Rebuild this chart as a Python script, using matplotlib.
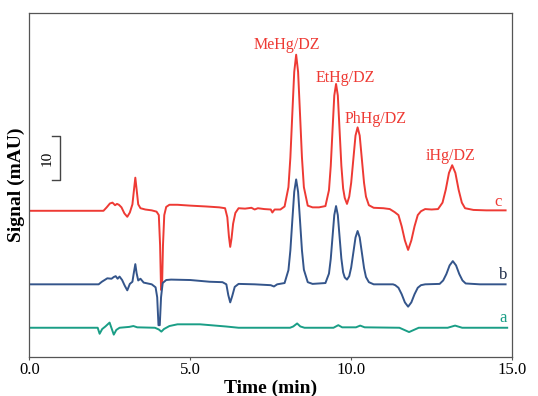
import numpy as np
import matplotlib
matplotlib.use("Agg")
import matplotlib.pyplot as plt  # noqa: E402

plt.rcParams["font.family"] = ["Liberation Serif", "DejaVu Serif"]

RED, BLUE, TEAL = "#EE3A34", "#34558B", "#1A9E86"

# traza c (mAU, relativo a su línea base)
t_c = [0.0, 2.30, 2.40, 2.50, 2.58, 2.66, 2.72, 2.78, 2.86, 2.95, 3.04, 3.12, 3.20, 3.25, 3.29,
       3.33, 3.38, 3.45, 3.60, 3.80, 3.95, 4.02, 4.06, 4.09, 4.12, 4.15, 4.19, 4.25, 4.35, 4.60,
       5.00, 5.50, 5.90, 6.08, 6.15, 6.20, 6.24, 6.28, 6.33, 6.40, 6.50, 6.70, 6.90, 7.00, 7.10,
       7.30, 7.50, 7.55, 7.62, 7.80, 7.93, 8.05, 8.11, 8.17, 8.23, 8.29, 8.35, 8.41, 8.47, 8.53,
       8.65, 8.80, 9.00, 9.20, 9.31, 9.365, 9.42, 9.475, 9.53, 9.585, 9.64, 9.695, 9.75, 9.80,
       9.87, 9.94, 10.00, 10.07, 10.135, 10.20, 10.265, 10.33, 10.40, 10.46, 10.55, 10.70, 11.00,
       11.20, 11.35, 11.47, 11.57, 11.67, 11.77, 11.87, 11.97, 12.07, 12.17, 12.30, 12.50, 12.70,
       12.84, 12.94, 13.04, 13.14, 13.24, 13.34, 13.44, 13.54, 13.80, 14.20, 14.80]
s_c = [0.0, 0.0, 0.8, 1.7, 1.9, 1.3, 1.6, 1.4, 0.8, -0.6, -1.4, -0.4, 1.5, 5.0, 7.7,
       5.0, 1.5, 0.6, 0.3, 0.1, -0.2, -1.0, -8.0, -18.4, -18.0, -8.0, -1.0, 0.9, 1.4, 1.4,
       1.2, 1.0, 0.8, 0.6, -1.5, -6.0, -8.4, -6.5, -3.0, -0.5, 0.6, 0.5, 0.7, 0.3, 0.6,
       0.4, 0.3, -0.4, 0.3, 0.3, 1.0, 5.5, 12.4, 22.5, 32.3, 36.3, 32.3, 22.5, 12.4, 5.5,
       1.2, 0.8, 0.8, 1.1, 4.8, 10.4, 18.7, 26.8, 29.5, 26.8, 18.7, 10.5, 5.2, 3.0,
       1.6, 3.3, 6.5, 12.2, 17.5, 19.4, 17.5, 12.2, 6.5, 3.3, 1.3, 0.7, 0.6,
       0.4, -0.3, -1.0, -3.6, -6.9, -9.1, -6.9, -3.6, -1.0, -0.1, 0.4, 0.3, 0.4,
       1.9, 4.9, 8.8, 10.6, 8.8, 4.9, 1.9, 0.6, 0.2, 0.1, 0.1]

# traza b
t_b = [0.0, 2.15, 2.25, 2.42, 2.55, 2.62, 2.68, 2.74, 2.80, 2.88, 2.96, 3.04, 3.12, 3.20, 3.24,
       3.29, 3.33, 3.38, 3.45, 3.55, 3.80, 3.92, 3.97, 4.01, 4.05, 4.09, 4.14, 4.25, 4.40, 5.00,
       5.60, 6.00, 6.12, 6.18, 6.24, 6.30, 6.38, 6.50, 7.00, 7.50, 7.60, 7.70, 7.93, 8.05, 8.11,
       8.17, 8.23, 8.29, 8.35, 8.41, 8.47, 8.53, 8.65, 8.80, 9.20, 9.31, 9.365, 9.42, 9.475,
       9.53, 9.585, 9.64, 9.695, 9.75, 9.80, 9.87, 9.94, 10.00, 10.07, 10.135, 10.20, 10.265, 10.33,
       10.40, 10.46, 10.55, 10.70, 11.30, 11.37, 11.47, 11.57, 11.67, 11.77, 11.87, 11.97, 12.07,
       12.17, 12.30, 12.75, 12.86, 12.96, 13.06, 13.16, 13.26, 13.36, 13.46, 13.56, 14.00, 14.80]
s_b = [0.0, 0.0, 0.6, 1.4, 1.3, 1.7, 1.9, 1.3, 1.8, 1.0, -0.3, -1.4, 0.1, 0.6, 2.5,
       4.7, 2.6, 0.9, 1.3, 0.4, 0.0, -0.7, -3.0, -9.5, -9.5, -3.0, 0.3, 1.0, 1.1, 1.0,
       0.6, 0.5, 0.0, -2.5, -4.2, -2.8, -0.6, 0.1, 0.0, -0.2, -0.5, 0.0, 0.3, 3.3, 7.9,
       14.8, 21.5, 24.4, 21.5, 14.8, 7.9, 3.4, 0.5, 0.1, 0.3, 2.5, 5.9, 11.0, 16.1,
       18.2, 16.1, 11.0, 6.0, 2.8, 1.6, 1.1, 1.9, 3.9, 7.5, 10.9, 12.4, 10.9, 7.5,
       3.8, 1.7, 0.5, 0.0, 0.0, -0.2, -0.8, -2.3, -4.2, -5.2, -4.2, -2.3, -0.8,
       -0.2, 0.0, 0.1, 0.9, 2.4, 4.4, 5.4, 4.4, 2.4, 0.9, 0.2, 0.0, 0.0]

# traza a
t_a = [0.0, 2.12, 2.18, 2.26, 2.36, 2.49, 2.56, 2.62, 2.70, 2.80, 3.10, 3.23, 3.35, 3.90, 4.02,
       4.10, 4.18, 4.35, 4.60, 5.30, 6.10, 6.50, 8.10, 8.20, 8.32, 8.42, 8.55, 9.45, 9.60, 9.72,
       10.15, 10.28, 10.42, 11.50, 11.80, 12.10, 13.00, 13.23, 13.45, 14.85]
s_a = [0.0, 0.0, -1.4, -0.3, 0.3, 1.2, -0.3, -1.6, -0.5, 0.0, 0.2, 0.4, 0.1, 0.0, -0.4,
       -0.9, -0.3, 0.4, 0.8, 0.8, 0.3, 0.0, 0.0, 0.3, 1.0, 0.3, 0.0, 0.0, 0.6, 0.1,
       0.1, 0.5, 0.1, 0.0, -1.0, 0.0, 0.0, 0.5, 0.0, 0.0]

offsets = {"a": 6.8, "b": 16.9, "c": 34.0}
trace_lab_t = {"a": 14.72, "b": 14.72, "c": 14.56}
trace_lab_y = {"a": 9.1, "b": 19.1, "c": 36.0}

peak_names = ["MeHg/DZ", "EtHg/DZ", "PhHg/DZ", "iHg/DZ"]
peak_lab_t = [8.0, 9.81, 10.77, 13.1]
peak_lab_y = [72.6, 64.9, 55.3, 46.7]

fig = plt.figure(figsize=(5.38, 3.96), dpi=100)
ax = fig.add_axes([0.0548, 0.0985, 0.8969, 0.8687])

for key, t, s, c in [("c", t_c, s_c, RED), ("b", t_b, s_b, BLUE), ("a", t_a, s_a, TEAL)]:
    y = np.array(s) + offsets[key]
    ax.plot(t, y, color=c, lw=1.4, solid_joinstyle="round")
    ax.text(trace_lab_t[key], trace_lab_y[key], key, color=c if key != "b" else "#1F2D4A",
            fontsize=12, ha="center", va="center")

for name, tx, ty in zip(peak_names, peak_lab_t, peak_lab_y):
    ax.text(tx, ty, name, color=RED, fontsize=11.5, ha="center", va="center")

# barra de escala (10 mAU)
ax.plot([0.70, 0.95, 0.95, 0.70], [51.3, 51.3, 41.2, 41.2], color="#444444", lw=1)
ax.text(0.54, 46.3, "10", rotation=90, fontsize=11, ha="center", va="center")

ax.set_xlim(0, 15)
ax.set_ylim(0, 80)
ax.set_xticks([0, 5, 10, 15])
ax.set_xticklabels(["0.0", "5.0", "10.0", "15.0"], fontsize=12)
ax.set_yticks([])
ax.tick_params(axis="x", length=2, width=0.8, pad=1.5, color="#555555")
for sp in ax.spines.values():
    sp.set_color("#555555"); sp.set_linewidth(0.9)
ax.set_xlabel("Time (min)", fontsize=14, fontweight="bold", labelpad=1)
ax.set_ylabel("Signal (mAU)", fontsize=14, fontweight="bold", labelpad=3)

fig.savefig("out.png", dpi=100)
